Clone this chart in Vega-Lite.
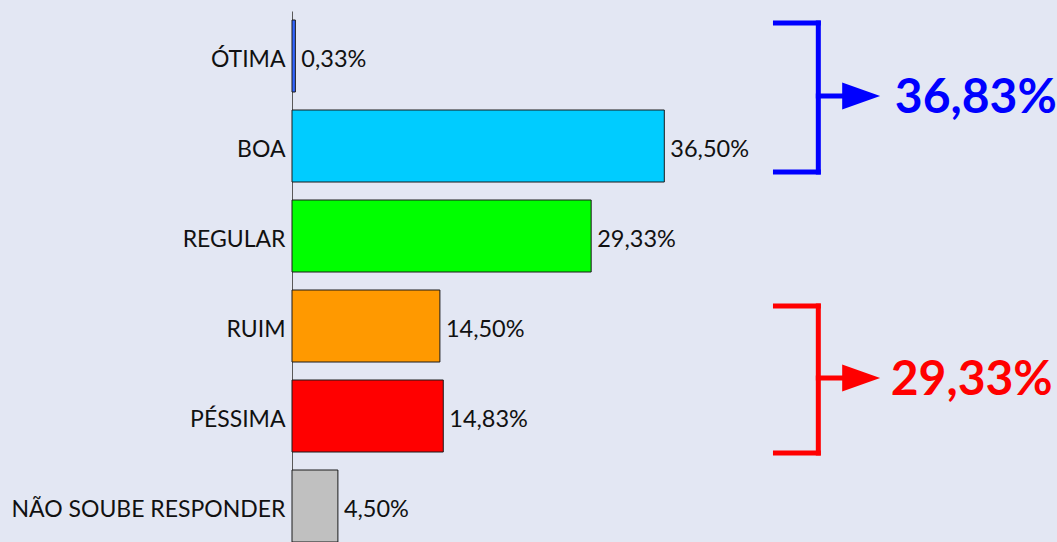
{
  "$schema": "https://vega.github.io/schema/vega-lite/v6.json",
  "width": 765,
  "height": 540,
  "autosize": {"type": "none"},
  "padding": {"left": 292, "top": 11, "right": 0, "bottom": 0},
  "background": "#E3E7F3",
  "config": {"view": {"stroke": null}, "font": "Lato"},
  "datasets": {
    "avaliacao": [
      {"categoria": "ÓTIMA", "percentual": 0.33, "rotulo": "0,33%"},
      {"categoria": "BOA", "percentual": 36.5, "rotulo": "36,50%"},
      {"categoria": "REGULAR", "percentual": 29.33, "rotulo": "29,33%"},
      {"categoria": "RUIM", "percentual": 14.5, "rotulo": "14,50%"},
      {"categoria": "PÉSSIMA", "percentual": 14.83, "rotulo": "14,83%"},
      {"categoria": "NÃO SOUBE RESPONDER", "percentual": 4.5, "rotulo": "4,50%"}
    ],
    "colchetes": [
      {"grupo": "positiva", "x": 47.4, "x2": 51.6, "y": 0.133, "y2": 0.133},
      {"grupo": "positiva", "x": 51.6, "x2": 51.6, "y": 0.133, "y2": 1.789},
      {"grupo": "positiva", "x": 47.4, "x2": 51.6, "y": 1.789, "y2": 1.789},
      {"grupo": "positiva", "x": 51.6, "x2": 54.5, "y": 0.944, "y2": 0.944},
      {"grupo": "negativa", "x": 47.4, "x2": 51.6, "y": 3.278, "y2": 3.278},
      {"grupo": "negativa", "x": 51.6, "x2": 51.6, "y": 3.278, "y2": 4.911},
      {"grupo": "negativa", "x": 47.4, "x2": 51.6, "y": 4.911, "y2": 4.911},
      {"grupo": "negativa", "x": 51.6, "x2": 54.5, "y": 4.078, "y2": 4.078}
    ],
    "totais": [
      {"grupo": "positiva", "xs": 55.8, "xt": 59.1, "y": 0.944, "total": "36,83%"},
      {"grupo": "negativa", "xs": 55.8, "xt": 58.7, "y": 4.078, "total": "29,33%"}
    ]
  },
  "layer": [
    {
      "data": {"name": "avaliacao"},
      "encoding": {
        "y": {
          "field": "categoria",
          "type": "nominal",
          "sort": null,
          "scale": {"paddingInner": 0.2, "paddingOuter": 0.1},
          "axis": {
            "title": null,
            "ticks": false,
            "labelFontSize": 23,
            "labelFont": "Lato",
            "labelColor": "#111111",
            "labelPadding": 7,
            "labelOffset": 4,
            "labelLimit": 400,
            "domainColor": "#595959",
            "domainWidth": 1
          }
        },
        "x": {
          "field": "percentual",
          "type": "quantitative",
          "scale": {"domain": [0, 75], "nice": false, "zero": false},
          "axis": null
        }
      },
      "layer": [
        {
          "mark": {"type": "bar", "stroke": "#1a1a1a", "strokeWidth": 1},
          "encoding": {
            "color": {
              "field": "categoria",
              "type": "nominal",
              "scale": {
                "domain": ["ÓTIMA", "BOA", "REGULAR", "RUIM", "PÉSSIMA", "NÃO SOUBE RESPONDER"],
                "range": ["#3366FF", "#00CCFF", "#00FF00", "#FF9900", "#FF0000", "#C0C0C0"]
              },
              "legend": null
            }
          }
        },
        {
          "mark": {"type": "text", "align": "left", "baseline": "middle", "dx": 6, "dy": 4, "fontSize": 23.5, "font": "Lato", "color": "#111111"},
          "encoding": {"text": {"field": "rotulo"}}
        }
      ]
    },
    {
      "layer": [
        {
          "data": {"name": "colchetes"},
          "mark": {"type": "rule", "strokeWidth": 5, "strokeCap": "square"},
          "encoding": {
            "x": {"field": "x", "type": "quantitative", "scale": {"domain": [0, 75], "nice": false, "zero": false}, "axis": null},
            "x2": {"field": "x2"},
            "y": {"field": "y", "type": "quantitative", "scale": {"domain": [0, 6], "reverse": true, "nice": false, "zero": false}, "axis": null},
            "y2": {"field": "y2"},
            "color": {"field": "grupo", "type": "nominal", "scale": {"domain": ["positiva", "negativa"], "range": ["#0000FF", "#FF0000"]}, "legend": null}
          }
        },
        {
          "data": {"name": "totais"},
          "mark": {"type": "point", "shape": "M-1,-0.71L1,0L-1,0.71Z", "size": 1444, "filled": true, "opacity": 1},
          "encoding": {
            "x": {"field": "xs", "type": "quantitative", "scale": {"domain": [0, 75], "nice": false, "zero": false}, "axis": null},
            "y": {"field": "y", "type": "quantitative", "scale": {"domain": [0, 6], "reverse": true, "nice": false, "zero": false}, "axis": null},
            "color": {"field": "grupo", "type": "nominal", "scale": {"domain": ["positiva", "negativa"], "range": ["#0000FF", "#FF0000"]}, "legend": null}
          }
        },
        {
          "data": {"name": "totais"},
          "mark": {"type": "text", "align": "left", "baseline": "middle", "dy": 3, "fontSize": 48, "fontWeight": "bold", "font": "Lato"},
          "encoding": {
            "x": {"field": "xt", "type": "quantitative", "scale": {"domain": [0, 75], "nice": false, "zero": false}, "axis": null},
            "y": {"field": "y", "type": "quantitative", "scale": {"domain": [0, 6], "reverse": true, "nice": false, "zero": false}, "axis": null},
            "text": {"field": "total"},
            "color": {"field": "grupo", "type": "nominal", "scale": {"domain": ["positiva", "negativa"], "range": ["#0000FF", "#FF0000"]}, "legend": null}
          }
        }
      ]
    }
  ],
  "resolve": {"scale": {"y": "independent", "color": "independent"}}
}
